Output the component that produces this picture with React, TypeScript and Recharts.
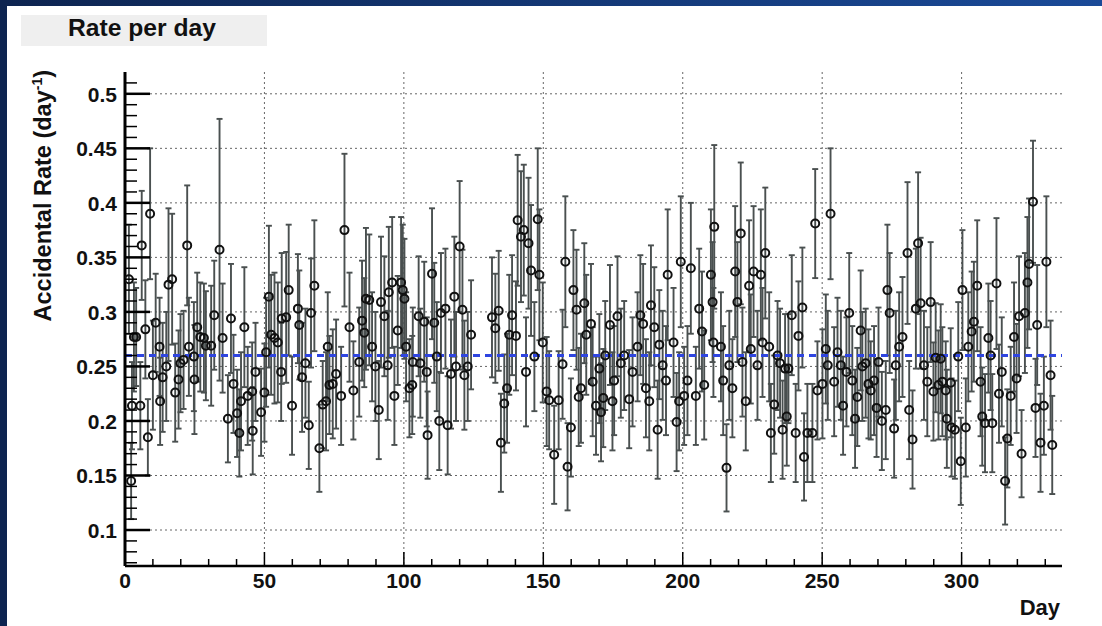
import React from 'react';
import { ScatterChart, Scatter, XAxis, YAxis, CartesianGrid, ErrorBar, ReferenceLine } from 'recharts';

// day of each measurement
const days = [
  1.4, 2.2, 2.5, 3.2, 4.0, 5.5, 6.0, 7.3, 8.2, 9.0,
  10.0, 11.0, 12.4, 12.6, 13.5, 14.8, 15.6, 16.9, 18.0, 19.2,
  19.9, 21.0, 22.3, 22.9, 24.7, 24.9, 25.9, 27.0, 28.3, 29.0,
  30.9, 32.0, 33.9, 35.0, 36.9, 38.0, 38.9, 40.2, 41.0, 41.6,
  42.8, 44.0, 45.6, 45.8, 46.8, 48.8, 50.0, 50.6, 51.6, 52.4,
  53.6, 54.8, 56.0, 56.2, 57.8, 58.7, 59.9, 62.0, 62.5, 63.5,
  64.7, 65.9, 66.7, 67.9, 69.7, 70.9, 72.1, 72.7, 73.3, 74.5,
  75.7, 77.5, 78.7, 80.5, 81.9, 84.0, 85.0, 85.8, 86.4, 87.6,
  88.6, 89.8, 91.0, 91.8, 93.0, 94.2, 94.6, 95.8, 96.6, 97.8,
  99.0, 99.6, 100.2, 100.8, 102.0, 103.0, 103.2, 105.3, 105.9, 107.3,
  108.2, 108.5, 110.1, 110.9, 111.8, 112.7, 113.3, 114.9, 115.7, 116.9,
  118.1, 118.7, 120.0, 121.0, 121.7, 122.9, 124.1, 131.6, 132.8, 134.0,
  134.8, 136.0, 137.0, 137.8, 138.8, 140.2, 140.8, 142.0, 143.0, 143.8,
  144.7, 145.6, 146.8, 148.0, 148.6, 149.8, 151.2, 152.1, 153.9, 155.5,
  156.9, 157.9, 158.7, 159.9, 160.8, 161.9, 162.7, 163.5, 164.7, 165.4,
  167.1, 167.7, 168.9, 170.1, 170.7, 171.5, 172.2, 173.9, 174.8, 175.4,
  176.6, 177.8, 179.0, 180.8, 182.0, 183.8, 184.8, 185.8, 186.8, 188.0,
  188.6, 189.8, 191.0, 191.6, 192.8, 194.0, 194.6, 196.7, 197.8, 198.7,
  199.3, 200.5, 201.7, 202.9, 204.7, 205.9, 206.9, 207.7, 210.1, 210.7,
  211.0, 211.3, 213.7, 214.5, 215.7, 216.7, 217.8, 218.8, 219.6, 220.8,
  221.4, 222.6, 223.8, 224.4, 225.4, 226.8, 228.0, 228.6, 229.6, 231.0,
  231.6, 232.8, 234.0, 234.9, 235.8, 236.7, 237.3, 237.9, 239.1, 240.5,
  241.5, 242.9, 243.5, 244.7, 246.5, 247.5, 248.3, 250.1, 251.3, 252.0,
  253.0, 254.3, 255.5, 256.7, 257.5, 258.7, 259.7, 260.8, 261.8, 262.6,
  263.8, 264.4, 265.6, 266.6, 267.4, 268.6, 269.5, 270.2, 271.4, 272.8,
  273.4, 274.2, 275.8, 276.4, 277.6, 278.8, 280.6, 281.2, 282.4, 283.6,
  284.4, 285.3, 286.5, 287.7, 288.9, 289.9, 290.7, 291.7, 292.5, 293.1,
  294.3, 294.7, 296.1, 296.4, 297.6, 298.8, 299.7, 300.3, 301.5, 302.4,
  303.6, 304.4, 305.6, 306.8, 307.4, 308.4, 309.6, 310.4, 311.0, 312.5,
  313.4, 314.4, 315.6, 316.4, 317.6, 318.8, 319.7, 320.6, 321.5, 322.7,
  323.6, 324.2, 325.6, 326.5, 327.1, 328.3, 329.5, 330.4, 331.9, 332.5,
];

// accidental rate per day
const rates = [
  0.33, 0.145, 0.214, 0.277, 0.277, 0.214, 0.361, 0.284, 0.185, 0.39,
  0.242, 0.29, 0.268, 0.218, 0.24, 0.25, 0.325, 0.33, 0.226, 0.238,
  0.253, 0.256, 0.361, 0.268, 0.259, 0.238, 0.286, 0.277, 0.276, 0.269,
  0.269, 0.297, 0.357, 0.276, 0.202, 0.294, 0.234, 0.207, 0.189, 0.218,
  0.286, 0.223, 0.227, 0.191, 0.245, 0.208, 0.226, 0.263, 0.314, 0.279,
  0.276, 0.272, 0.245, 0.294, 0.295, 0.32, 0.214, 0.303, 0.288, 0.24,
  0.253, 0.196, 0.299, 0.324, 0.175, 0.215, 0.218, 0.268, 0.233, 0.234,
  0.243, 0.223, 0.375, 0.286, 0.228, 0.254, 0.292, 0.281, 0.312, 0.311,
  0.268, 0.25, 0.21, 0.309, 0.296, 0.251, 0.318, 0.327, 0.223, 0.283,
  0.327, 0.32, 0.312, 0.268, 0.23, 0.233, 0.254, 0.296, 0.253, 0.291,
  0.245, 0.187, 0.335, 0.29, 0.259, 0.2, 0.299, 0.303, 0.196, 0.243,
  0.314, 0.25, 0.36, 0.302, 0.242, 0.25, 0.279, 0.295, 0.285, 0.301,
  0.18, 0.216, 0.23, 0.279, 0.297, 0.278, 0.384, 0.369, 0.375, 0.245,
  0.363, 0.338, 0.259, 0.385, 0.334, 0.272, 0.227, 0.219, 0.169, 0.219,
  0.252, 0.346, 0.158, 0.194, 0.32, 0.302, 0.222, 0.23, 0.308, 0.279,
  0.289, 0.236, 0.214, 0.248, 0.208, 0.221, 0.26, 0.288, 0.218, 0.237,
  0.296, 0.253, 0.26, 0.22, 0.245, 0.268, 0.297, 0.289, 0.23, 0.218,
  0.306, 0.286, 0.192, 0.27, 0.251, 0.237, 0.334, 0.272, 0.199, 0.218,
  0.346, 0.223, 0.237, 0.34, 0.223, 0.303, 0.282, 0.233, 0.334, 0.309,
  0.272, 0.378, 0.268, 0.237, 0.157, 0.251, 0.23, 0.337, 0.309, 0.372,
  0.254, 0.218, 0.324, 0.266, 0.337, 0.251, 0.334, 0.272, 0.354, 0.268,
  0.189, 0.215, 0.26, 0.253, 0.192, 0.248, 0.204, 0.248, 0.297, 0.189,
  0.278, 0.304, 0.167, 0.189, 0.189, 0.381, 0.228, 0.234, 0.266, 0.251,
  0.39, 0.236, 0.263, 0.251, 0.214, 0.245, 0.299, 0.237, 0.202, 0.222,
  0.283, 0.25, 0.253, 0.234, 0.228, 0.237, 0.212, 0.254, 0.2, 0.21,
  0.32, 0.299, 0.193, 0.251, 0.268, 0.277, 0.354, 0.21, 0.183, 0.303,
  0.363, 0.308, 0.251, 0.236, 0.309, 0.227, 0.258, 0.233, 0.257, 0.236,
  0.228, 0.202, 0.235, 0.194, 0.192, 0.259, 0.163, 0.32, 0.194, 0.268,
  0.282, 0.291, 0.324, 0.236, 0.204, 0.198, 0.276, 0.26, 0.198, 0.326,
  0.225, 0.245, 0.145, 0.184, 0.223, 0.277, 0.239, 0.296, 0.17, 0.299,
  0.327, 0.344, 0.401, 0.212, 0.288, 0.18, 0.214, 0.346, 0.242, 0.178,
];

// half-length of each error bar
const errors = [
  0.05, 0.035, 0.04, 0.05, 0.045, 0.04, 0.05, 0.045, 0.035, 0.06,
  0.05, 0.045, 0.045, 0.04, 0.05, 0.05, 0.07, 0.06, 0.045, 0.045,
  0.045, 0.045, 0.055, 0.045, 0.05, 0.05, 0.05, 0.05, 0.05, 0.05,
  0.055, 0.05, 0.12, 0.05, 0.04, 0.05, 0.045, 0.04, 0.04, 0.045,
  0.055, 0.045, 0.045, 0.04, 0.045, 0.04, 0.045, 0.05, 0.065, 0.055,
  0.06, 0.055, 0.045, 0.06, 0.06, 0.06, 0.045, 0.05, 0.05, 0.05,
  0.05, 0.04, 0.05, 0.06, 0.04, 0.04, 0.045, 0.05, 0.045, 0.05,
  0.05, 0.045, 0.07, 0.05, 0.045, 0.05, 0.055, 0.05, 0.065, 0.06,
  0.05, 0.05, 0.045, 0.06, 0.055, 0.05, 0.06, 0.06, 0.045, 0.05,
  0.06, 0.06, 0.055, 0.05, 0.045, 0.045, 0.05, 0.055, 0.05, 0.055,
  0.05, 0.04, 0.06, 0.055, 0.05, 0.045, 0.055, 0.055, 0.045, 0.05,
  0.055, 0.05, 0.06, 0.055, 0.05, 0.05, 0.05, 0.055, 0.05, 0.055,
  0.045, 0.045, 0.05, 0.055, 0.055, 0.05, 0.06, 0.06, 0.06, 0.05,
  0.06, 0.06, 0.05, 0.065, 0.06, 0.055, 0.05, 0.045, 0.045, 0.045,
  0.05, 0.06, 0.04, 0.045, 0.055, 0.055, 0.045, 0.05, 0.055, 0.055,
  0.055, 0.05, 0.045, 0.05, 0.045, 0.045, 0.05, 0.055, 0.045, 0.05,
  0.055, 0.05, 0.05, 0.045, 0.05, 0.05, 0.055, 0.055, 0.045, 0.045,
  0.055, 0.055, 0.045, 0.05, 0.05, 0.05, 0.06, 0.05, 0.045, 0.045,
  0.06, 0.045, 0.05, 0.06, 0.045, 0.055, 0.055, 0.05, 0.06, 0.055,
  0.05, 0.075, 0.05, 0.05, 0.04, 0.05, 0.045, 0.06, 0.055, 0.065,
  0.05, 0.045, 0.06, 0.05, 0.06, 0.05, 0.06, 0.05, 0.06, 0.05,
  0.045, 0.045, 0.05, 0.05, 0.045, 0.05, 0.045, 0.05, 0.055, 0.045,
  0.05, 0.055, 0.04, 0.045, 0.045, 0.05, 0.045, 0.05, 0.05, 0.05,
  0.06, 0.05, 0.05, 0.05, 0.045, 0.05, 0.055, 0.05, 0.045, 0.045,
  0.055, 0.05, 0.05, 0.05, 0.045, 0.05, 0.045, 0.05, 0.045, 0.045,
  0.06, 0.055, 0.045, 0.05, 0.05, 0.055, 0.065, 0.045, 0.045, 0.055,
  0.065, 0.06, 0.05, 0.05, 0.055, 0.045, 0.05, 0.05, 0.05, 0.05,
  0.045, 0.045, 0.05, 0.045, 0.045, 0.05, 0.04, 0.055, 0.045, 0.05,
  0.055, 0.055, 0.06, 0.05, 0.045, 0.045, 0.05, 0.05, 0.045, 0.06,
  0.045, 0.05, 0.04, 0.045, 0.045, 0.05, 0.05, 0.055, 0.04, 0.055,
  0.06, 0.06, 0.056, 0.045, 0.055, 0.045, 0.045, 0.06, 0.05, 0.045,
];

const xLabels = [0, 50, 100, 150, 200, 250, 300];
const yLabels = [0.1, 0.15, 0.2, 0.25, 0.3, 0.35, 0.4, 0.45, 0.5];
const meanRate = 0.26;

const points = days.map((d, i) => ({ day: d, rate: rates[i], err: errors[i] }));

// minor ticks: every 10 days, every 0.01 in rate
const xTicks: number[] = [];
for (let d = 0; d <= 330; d += 10) xTicks.push(d);
const yTicks: number[] = [];
for (let k = 7; k <= 51; k++) yTicks.push(k / 100);

const FONT = '"Liberation Sans", Arial, Helvetica, sans-serif';

function XTick(props: any) {
  const { x, y, payload } = props;
  const major = xLabels.includes(payload.value);
  return (
    <g>
      <line x1={x} x2={x} y1={y} y2={y - (major ? 14 : 7)} stroke="#000" strokeWidth={1.5} />
      {major && (
        <text x={x} y={y + 22} textAnchor="middle" fontFamily={FONT} fontWeight="bold" fontSize={21} fill="#111">
          {payload.value}
        </text>
      )}
    </g>
  );
}

function YTick(props: any) {
  const { x, y, payload } = props;
  const label = yLabels.find((v) => Math.abs(v - payload.value) < 1e-6);
  const major = label !== undefined;
  return (
    <g>
      <line x1={x} x2={x + (major ? 25 : 12)} y1={y} y2={y} stroke="#000" strokeWidth={major ? 2.5 : 1.5} />
      {major && (
        <text x={x - 8} y={y + 8} textAnchor="end" fontFamily={FONT} fontWeight="bold" fontSize={21} fill="#111">
          {String(label)}
        </text>
      )}
    </g>
  );
}

const Marker = (props: any) => (
  <circle cx={props.cx} cy={props.cy} r={4} fill="none" stroke="#111" strokeWidth={2} />
);

export default function App() {
  return (
    <div style={{ position: 'fixed', left: 0, top: 0, width: 1102, height: 626, background: '#fff', overflow: 'hidden' }}>
      <div style={{ position: 'absolute', left: 0, top: 0, width: 1102, height: 6, background: 'linear-gradient(90deg, #0d2450, #1a4a98)' }} />
      <div style={{ position: 'absolute', left: 0, top: 0, width: 7, height: 626, background: '#0d2450' }} />
      <svg style={{ position: 'absolute', left: 0, top: 0 }} width={300} height={60}>
        <rect x={21} y={15} width={246} height={31} fill="#efefef" />
        <text x={68} y={36} fontFamily={FONT} fontWeight="bold" fontSize={23} fill="#111" textLength={148} lengthAdjust="spacingAndGlyphs">
          Rate per day
        </text>
      </svg>
      <div style={{ position: 'absolute', left: 0, top: 0 }}>
        <ScatterChart width={1102} height={626} margin={{ top: 72, right: 40, bottom: 0, left: 35 }}>
          <CartesianGrid
            stroke="#666"
            strokeDasharray="2 3"
            horizontalValues={yLabels}
            verticalValues={xLabels}
          />
          <XAxis
            type="number"
            dataKey="day"
            domain={[0, 336]}
            ticks={xTicks}
            interval={0}
            allowDataOverflow
            height={60}
            tickSize={0}
            tickMargin={0}
            tickLine={false}
            axisLine={{ stroke: '#000', strokeWidth: 2.5 }}
            tick={<XTick />}
            label={{
              content: () => (
                <text x={1060} y={615} textAnchor="end" fontFamily={FONT} fontWeight="bold" fontSize={22} fill="#111">
                  Day
                </text>
              ),
            }}
          />
          <XAxis
            xAxisId="top"
            orientation="top"
            type="number"
            domain={[0, 336]}
            height={0}
            tick={false}
            tickLine={false}
            axisLine={{ stroke: '#888', strokeWidth: 2.5 }}
          />
          <YAxis
            type="number"
            dataKey="rate"
            domain={[0.067, 0.52]}
            ticks={yTicks}
            interval={0}
            allowDataOverflow
            width={90}
            tickSize={0}
            tickMargin={0}
            tickLine={false}
            axisLine={{ stroke: '#000', strokeWidth: 3 }}
            tick={<YTick />}
            label={{
              content: () => (
                <text
                  transform="translate(51,70) rotate(-90)"
                  textAnchor="end"
                  fontFamily={FONT}
                  fontWeight="bold"
                  fontSize={23.5}
                  fill="#111"
                >
                  <tspan>Accidental Rate (day</tspan>
                  <tspan dy={-9} fontSize={14}>-1</tspan>
                  <tspan dy={9}>)</tspan>
                </text>
              ),
            }}
          />
          <YAxis
            yAxisId="right"
            orientation="right"
            type="number"
            domain={[0.067, 0.52]}
            width={0}
            tick={false}
            tickLine={false}
            axisLine={{ stroke: '#222', strokeWidth: 1.5 }}
          />
          <Scatter data={points} dataKey="rate" shape={Marker} isAnimationActive={false}>
            <ErrorBar dataKey="err" direction="y" width={3} stroke="#4a5050" strokeWidth={1.9} />
          </Scatter>
          <ReferenceLine y={meanRate} stroke="#2f45e0" strokeWidth={3} strokeDasharray="7 5" />
        </ScatterChart>
      </div>
    </div>
  );
}
